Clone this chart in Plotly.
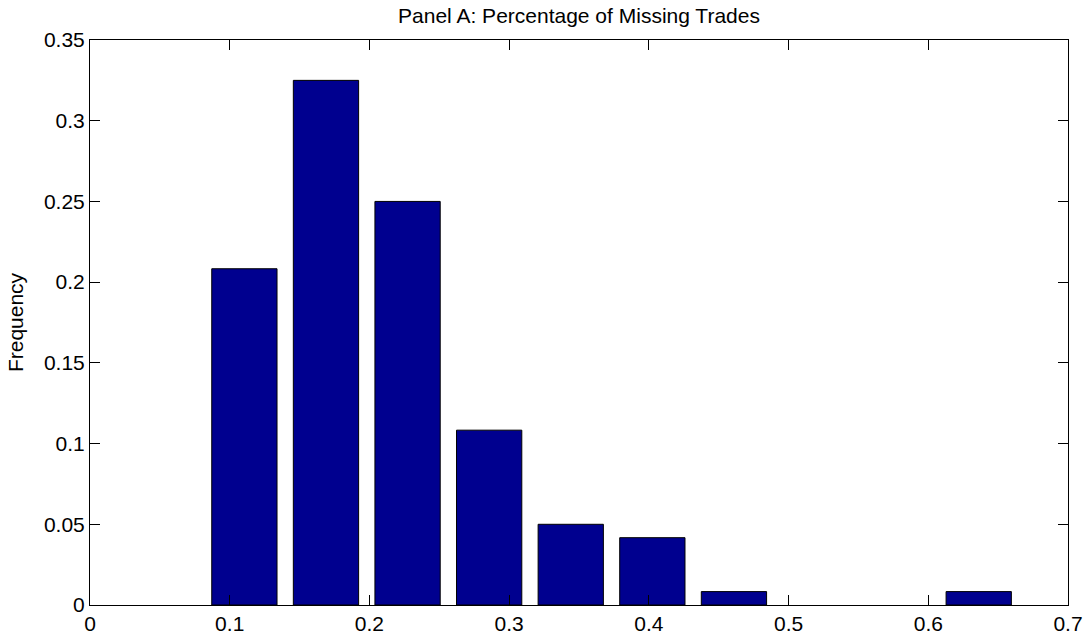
import plotly.graph_objects as go

bin_centers = [0.1105, 0.1689, 0.2273, 0.2857, 0.3441, 0.4025, 0.4609, 0.5193, 0.5777, 0.6361]
frequency = [0.2083, 0.325, 0.25, 0.1083, 0.05, 0.0417, 0.0083, 0.0, 0.0, 0.0083]
x_ticks = [0, 0.1, 0.2, 0.3, 0.4, 0.5, 0.6, 0.7]
y_ticks = [0, 0.05, 0.1, 0.15, 0.2, 0.25, 0.3, 0.35]

bin_step = bin_centers[1] - bin_centers[0]
FONT = "Liberation Sans, Arial, Helvetica"

fig = go.Figure(go.Bar(
    x=bin_centers,
    y=frequency,
    width=0.8 * bin_step,
    marker=dict(color="#00008F",
                line=dict(color="black", width=[1 if v > 0 else 0 for v in frequency])),
    hoverinfo="skip",
))

axis_common = dict(
    showline=True, linecolor="black", linewidth=1, mirror="ticks",
    ticks="inside", ticklen=10, tickcolor="black", tickwidth=1,
    showgrid=False, zeroline=False, automargin=False,
    tickfont=dict(family=FONT, size=21, color="black"),
)

fig.update_layout(
    width=1089, height=639,
    margin=dict(l=90, r=21, t=40, b=34),
    paper_bgcolor="white", plot_bgcolor="white",
    showlegend=False,
    title=dict(text="Panel A: Percentage of Missing Trades", x=(90 + 1068) / 2 / 1089,
               xanchor="center", y=1 - 16 / 639, yanchor="middle",
               font=dict(family=FONT, size=21, color="black")),
    xaxis=dict(range=[0, 0.7], tickvals=x_ticks, ticktext=[f"{v:g}" for v in x_ticks], **axis_common),
    yaxis=dict(range=[0, 0.35], tickvals=y_ticks, ticktext=[f"{v:g}" for v in y_ticks],
               title=dict(text="Frequency", standoff=14,
                          font=dict(family=FONT, size=21, color="black")),
               **axis_common),
)

fig.write_html("out.html", config={"displayModeBar": False},
               post_script="document.body.style.margin='0';")
